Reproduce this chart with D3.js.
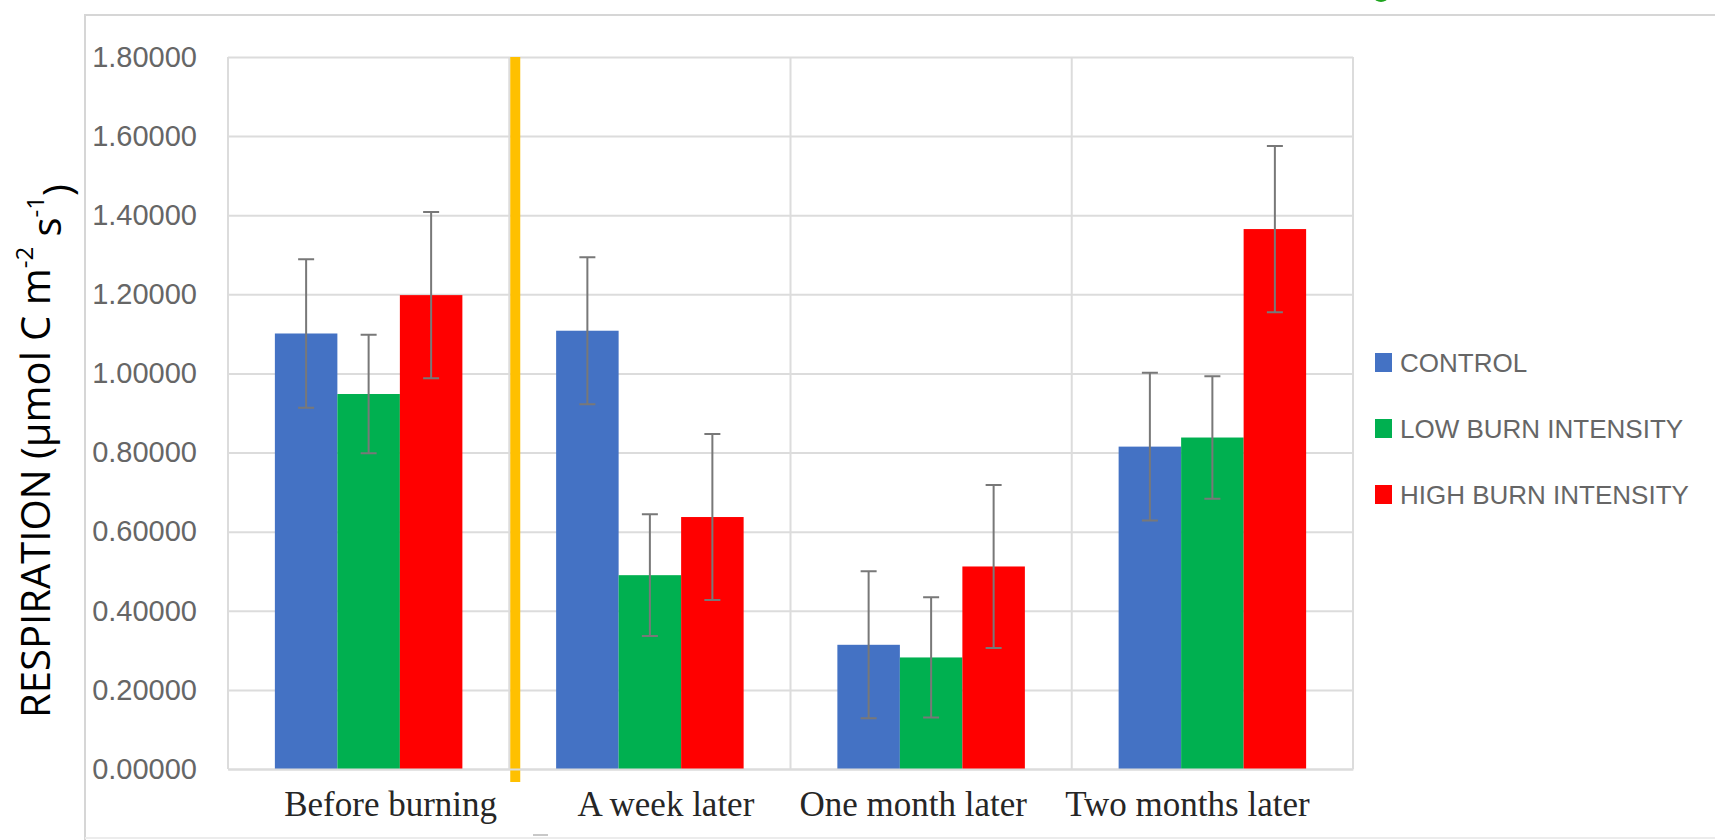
<!DOCTYPE html>
<html>
<head>
<meta charset="utf-8">
<script src="https://cdn.jsdelivr.net/npm/d3@7"></script>
<style>
  html, body { margin: 0; padding: 0; background: #ffffff; }
  svg { display: block; }
</style>
</head>
<body>
<script>
// ---------------- data ----------------
const categories = ["Before burning", "A week later", "One month later", "Two months later"];
const seriesNames = ["CONTROL", "LOW BURN INTENSITY", "HIGH BURN INTENSITY"];
const controlValues = [1.101, 1.108, 0.314, 0.815];
const controlErrors = [0.188, 0.186, 0.186, 0.187];
const lowValues = [0.948, 0.490, 0.282, 0.838];
const lowErrors = [0.150, 0.154, 0.152, 0.155];
const highValues = [1.198, 0.637, 0.512, 1.365];
const highErrors = [0.210, 0.210, 0.206, 0.210];
const yTicks = [0, 0.2, 0.4, 0.6, 0.8, 1.0, 1.2, 1.4, 1.6, 1.8];

// ---------------- layout / style ----------------
const W = 1715, H = 840;
const plot = { left: 228, right: 1353, top: 57, bottom: 769 };
const colors = ["#4472C4", "#00B050", "#FF0000"];
const labelNudge = [22, 16, -18, -25];   // x-label offsets seen in the original figure
const gridColor = "#dcdcdc";

const series = [
  { name: seriesNames[0], values: controlValues, errors: controlErrors, color: colors[0] },
  { name: seriesNames[1], values: lowValues, errors: lowErrors, color: colors[1] },
  { name: seriesNames[2], values: highValues, errors: highErrors, color: colors[2] }
];

const svg = d3.select("body").append("svg").attr("width", W).attr("height", H);

// outer chart frame
svg.append("path")
  .attr("d", `M85,${H} L85,15 L${W},15`)
  .attr("fill", "none").attr("stroke", "#d6d6d6").attr("stroke-width", 2);
svg.append("line").attr("x1", 85).attr("x2", W).attr("y1", H - 2).attr("y2", H - 2)
  .attr("stroke", "#ececec").attr("stroke-width", 2);
svg.append("line").attr("x1", 533).attr("x2", 548).attr("y1", 835).attr("y2", 835)
  .attr("stroke", "#c8c8c8").attr("stroke-width", 2);
// small green mark clipped at the top edge
svg.append("ellipse").attr("cx", 1381).attr("cy", -3).attr("rx", 7).attr("ry", 5)
  .attr("fill", "#1fa51f");

// scales
const x = d3.scaleBand().domain(categories).range([plot.left, plot.right]).paddingInner(0).paddingOuter(0);
const xs = d3.scaleBand().domain(seriesNames).range([0, x.bandwidth()]).paddingInner(0).paddingOuter(0.75);
const y = d3.scaleLinear().domain([0, 1.8]).range([plot.bottom, plot.top]);

// y axis with horizontal gridlines
const yAxis = svg.append("g")
  .attr("transform", `translate(${plot.left},0)`)
  .call(d3.axisLeft(y).tickValues(yTicks).tickFormat(d3.format(".5f"))
    .tickSizeInner(-(plot.right - plot.left)).tickSizeOuter(0).tickPadding(31));
yAxis.select(".domain").remove();
yAxis.selectAll(".tick line").attr("stroke", gridColor).attr("stroke-width", 2);
yAxis.selectAll(".tick text")
  .attr("fill", "#666666")
  .style("font-family", "'Liberation Sans', Arial, sans-serif")
  .style("font-size", "29px");

// vertical gridlines at category boundaries
const boundaries = categories.map(c => x(c)).concat([x(categories[categories.length - 1]) + x.bandwidth()]);
svg.append("g").selectAll("line").data(boundaries).join("line")
  .attr("x1", d => d).attr("x2", d => d)
  .attr("y1", plot.top).attr("y2", plot.bottom)
  .attr("stroke", gridColor).attr("stroke-width", 2);

// bars
const groups = svg.append("g").selectAll("g").data(series).join("g").attr("fill", d => d.color);
groups.selectAll("rect")
  .data(s => categories.map((c, i) => ({ cat: c, name: s.name, v: s.values[i] })))
  .join("rect")
  .attr("x", d => x(d.cat) + xs(d.name))
  .attr("width", xs.bandwidth())
  .attr("y", d => y(d.v))
  .attr("height", d => y(0) - y(d.v));

// error bars
const errData = [];
series.forEach(s => categories.forEach((c, i) => errData.push({ cat: c, name: s.name, v: s.values[i], e: s.errors[i] })));
const eg = svg.append("g").attr("stroke", "#787878").attr("stroke-width", 2).attr("fill", "none");
const cx = d => x(d.cat) + xs(d.name) + xs.bandwidth() / 2;
const capW = 8;
eg.selectAll("path").data(errData).join("path")
  .attr("d", d => {
    const c = cx(d), t = y(d.v + d.e), b = y(d.v - d.e);
    return `M${c},${t} L${c},${b} M${c - capW},${t} L${c + capW},${t} M${c - capW},${b} L${c + capW},${b}`;
  });

// yellow separator between "Before burning" and the rest
const sepX = x(categories[1]) + 6;
svg.append("line")
  .attr("x1", sepX).attr("x2", sepX)
  .attr("y1", plot.top).attr("y2", plot.bottom + 13)
  .attr("stroke", "#FFC000").attr("stroke-width", 10);

// x axis labels
const xAxis = svg.append("g")
  .attr("transform", `translate(0,${plot.bottom})`)
  .call(d3.axisBottom(x).tickSize(0).tickPadding(22));
xAxis.select(".domain").attr("stroke", gridColor).attr("stroke-width", 2);
xAxis.selectAll(".tick text")
  .attr("fill", "#262626")
  .attr("x", (d, i) => labelNudge[i])
  .style("font-family", "'Liberation Serif', 'Times New Roman', serif")
  .style("font-size", "35px");

// y-axis title
const title = svg.append("text")
  .attr("transform", "translate(50,451) rotate(-90)")
  .attr("text-anchor", "middle")
  .attr("fill", "#000000")
  .style("font-family", "'Open Sans', sans-serif")
  .style("font-size", "40px");
title.append("tspan").text("RESPIRATION (µmol C m");
title.append("tspan").attr("dy", "-0.7em").style("font-size", "24px").text("-2");
title.append("tspan").attr("dy", "0.7em").text(" s");
title.append("tspan").attr("dy", "-0.7em").style("font-size", "24px").text("-1");
title.append("tspan").attr("dy", "0.7em").text(")");

// legend
const legend = svg.append("g").selectAll("g").data(series).join("g")
  .attr("transform", (d, i) => `translate(1375,${363 + i * 66})`);
legend.append("rect").attr("x", 0).attr("y", -10).attr("width", 17).attr("height", 19)
  .attr("fill", d => d.color);
legend.append("text").attr("x", 25).attr("y", 0).attr("dy", "0.35em")
  .attr("fill", "#666666")
  .style("font-family", "'Liberation Sans', Arial, sans-serif")
  .style("font-size", "26px")
  .text(d => d.name);
</script>
</body>
</html>
